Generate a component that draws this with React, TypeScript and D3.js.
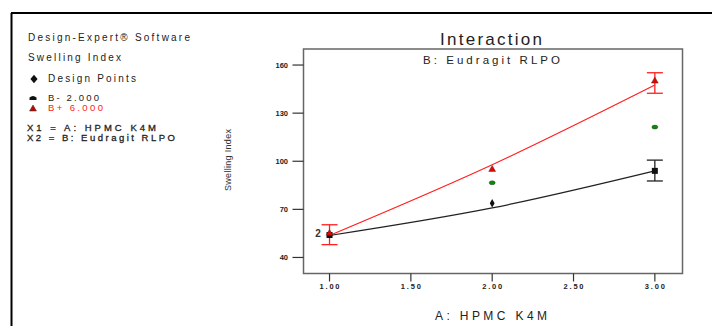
import React from 'react';
import * as d3 from 'd3';

// factor A levels (x) and fitted model lines for B- / B+
const levelsA = [1, 2, 3];
const fitLow = [53.7, 70.9, 94];
const fitHigh = [53.7, 97.8, 147.5];

// design points
const designLow = [
  { a: 1, v: 54 },
  { a: 2, v: 73.8 },
  { a: 3, v: 94 },
];
const designHigh = [
  { a: 1, v: 55 },
  { a: 2, v: 94.9 },
  { a: 3, v: 150 },
];
const designMid = [
  { a: 2, v: 86.6 },
  { a: 3, v: 121.3 },
];

// LSD bars
const lsdLow = [{ a: 3, lo: 87.7, hi: 100.7 }];
const lsdHigh = [
  { a: 1, lo: 48, hi: 60.4 },
  { a: 3, lo: 142.4, hi: 155.2 },
];

const xTicks = [1, 1.5, 2, 2.5, 3];
const yTicks = [40, 70, 100, 130, 160];

const W = 712;
const H = 326;
const plot = { left: 303.5, right: 682.5, top: 49, bottom: 273.5 };
const FONT = "'Liberation Sans', Arial, sans-serif";

const App: React.FC = () => {
  const x = d3.scaleLinear().domain([0.84, 3.17]).range([plot.left, plot.right]);
  const y = d3.scaleLinear().domain([30, 170]).range([plot.bottom, plot.top]);

  const line = d3
    .line<number>()
    .x((_, i) => x(levelsA[i]))
    .y((d) => y(d))
    .curve(d3.curveNatural);

  const tri = d3.symbol().type(d3.symbolTriangle).size(20)();
  const dia = d3.symbol().type(d3.symbolDiamond).size(20)();

  const errBar = (a: number, lo: number, hi: number, color: string, key: string) => (
    <g key={key} stroke={color} strokeWidth={1.3}>
      <line x1={x(a)} x2={x(a)} y1={y(lo)} y2={y(hi)} />
      <line x1={x(a) - 8} x2={x(a) + 8} y1={y(lo)} y2={y(lo)} />
      <line x1={x(a) - 8} x2={x(a) + 8} y1={y(hi)} y2={y(hi)} />
    </g>
  );

  return (
    <div style={{ position: 'fixed', left: 0, top: 0 }}>
      <svg width={W} height={H} style={{ display: 'block', background: '#fff' }} fontFamily={FONT}>
        {/* outer frame */}
        <line x1={11} x2={W} y1={13} y2={13} stroke="#000" strokeWidth={2} />
        <line x1={11.5} x2={11.5} y1={13} y2={H} stroke="#000" strokeWidth={2} />

        {/* legend block */}
        <g fill="#222" fontSize={10}>
          <text x={28} y={41} textLength={162} lengthAdjust="spacing">Design-Expert® Software</text>
          <text x={28} y={61} textLength={93} lengthAdjust="spacing">Swelling Index</text>
          <path d={dia} transform="translate(34,79) scale(1.5,1)" fill="#111" />
          <text x={48} y={82} textLength={88} lengthAdjust="spacing">Design Points</text>
          <path d="M29.5,100 L29.5,97.5 Q33,94.5 36.5,97.5 L36.5,100 Z" fill="#111" />
          <text x={48} y={101} fontSize={9.5} textLength={51} lengthAdjust="spacing">B- 2.000</text>
          <path d={tri} transform="translate(33,109)" fill="#c00" stroke="#333" strokeWidth={0.6} />
          <text x={48} y={110.5} fontSize={9.5} fill="#ff1a1a" textLength={55} lengthAdjust="spacing">B+ 6.000</text>
          <text x={27} y={131} fontSize={9.5} stroke="#222" strokeWidth={0.3} textLength={129} lengthAdjust="spacing">X1 = A: HPMC K4M</text>
          <text x={27} y={141} fontSize={9.5} stroke="#222" strokeWidth={0.3} textLength={148} lengthAdjust="spacing">X2 = B: Eudragit RLPO</text>
        </g>

        {/* titles */}
        <text x={491} y={45} fontSize={17} textAnchor="middle" fill="#222" textLength={102} lengthAdjust="spacing">Interaction</text>
        <text x={491.5} y={64} fontSize={11.5} textAnchor="middle" fill="#222" textLength={137} lengthAdjust="spacing">B: Eudragit RLPO</text>

        {/* axis titles */}
        <text x={491} y={320} fontSize={12} textAnchor="middle" fill="#222" textLength={112} lengthAdjust="spacing">A: HPMC K4M</text>
        <text transform="translate(231,160) rotate(-90)" fontSize={9} textAnchor="middle" fill="#333" textLength={62} lengthAdjust="spacing">Swelling Index</text>

        {/* plot box */}
        <rect x={plot.left} y={plot.top} width={plot.right - plot.left} height={plot.bottom - plot.top} fill="none" stroke="#666" strokeWidth={1.5} />

        {/* y ticks */}
        {yTicks.map((t) => (
          <g key={`y${t}`}>
            <line x1={292.5} x2={plot.left} y1={y(t)} y2={y(t)} stroke="#333" strokeWidth={1.2} />
            <text x={288} y={y(t) + 2.8} fontSize={7.5} textAnchor="end" fill="#222" fontWeight="bold">{t}</text>
          </g>
        ))}

        {/* x ticks */}
        {xTicks.map((t) => (
          <g key={`x${t}`}>
            <line x1={x(t)} x2={x(t)} y1={plot.bottom} y2={plot.bottom + 8} stroke="#333" strokeWidth={1.2} />
            <text x={x(t)} y={288.5} fontSize={7.5} textAnchor="middle" fill="#222" fontWeight="bold" textLength={20} lengthAdjust="spacing">{t.toFixed(2)}</text>
          </g>
        ))}

        {/* model lines */}
        <path d={line(fitLow) || ''} fill="none" stroke="#222" strokeWidth={1.2} />
        <path d={line(fitHigh) || ''} fill="none" stroke="#ff2020" strokeWidth={1.2} />

        {/* LSD bars */}
        {lsdLow.map((d, i) => errBar(d.a, d.lo, d.hi, '#222', `l${i}`))}
        {lsdHigh.map((d, i) => errBar(d.a, d.lo, d.hi, '#ff2020', `h${i}`))}

        {/* design points */}
        {designMid.map((d, i) => (
          <ellipse key={`m${i}`} cx={x(d.a)} cy={y(d.v)} rx={3} ry={2} fill="#0a8a0a" stroke="#333" strokeWidth={0.4} />
        ))}
        {designLow.map((d, i) =>
          d.a === 2 ? (
            <path key={`dl${i}`} d={dia} transform={`translate(${x(d.a)},${y(d.v)})`} fill="#111" />
          ) : (
            <rect key={`dl${i}`} x={x(d.a) - 3} y={y(d.v) - 3} width={6} height={6} fill="#111" />
          )
        )}
        {designHigh.map((d, i) => (
          <path key={`dh${i}`} d={tri} transform={`translate(${x(d.a)},${y(d.v)})`} fill="#e00" stroke="#333" strokeWidth={0.5} />
        ))}
        <text x={318} y={237} fontSize={10} fontWeight="bold" textAnchor="middle" fill="#333">2</text>
      </svg>
    </div>
  );
};

export default App;
